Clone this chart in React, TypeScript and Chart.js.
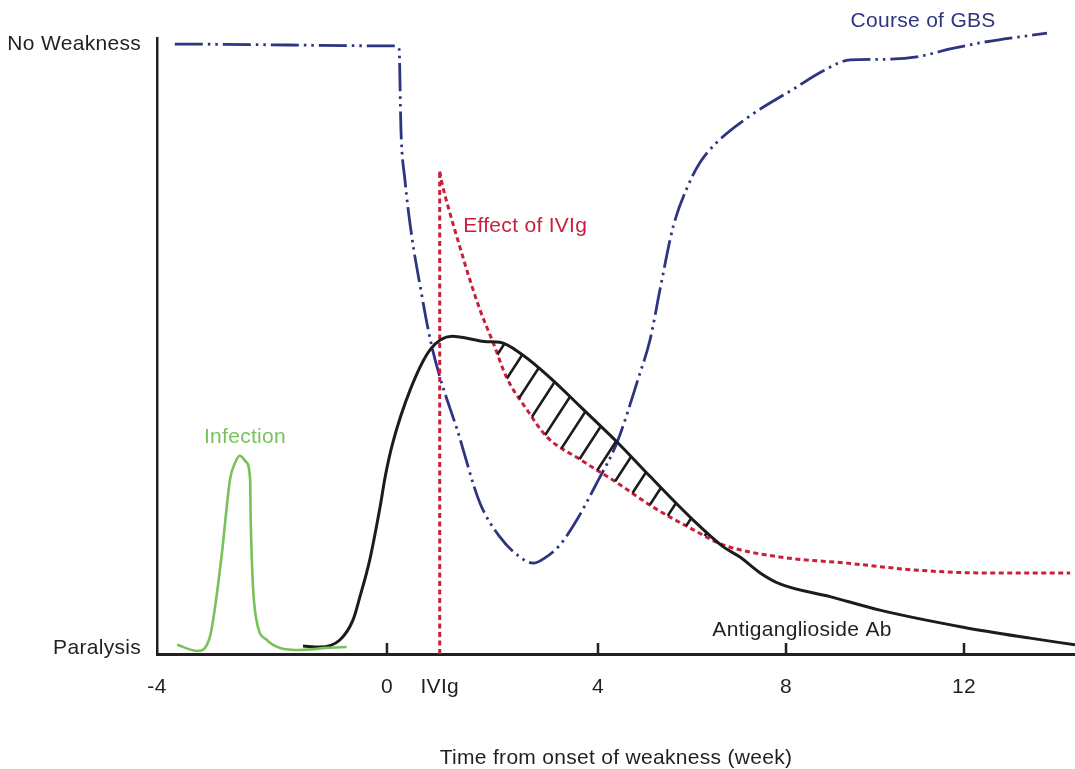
import React, { useEffect, useRef } from "react";
import { Chart, registerables } from "chart.js";

Chart.register(...registerables);

// ---- axis layout (the drawn time axis is not evenly spaced) ----
const axisWeeks = [-4, 0, 4, 8, 12, 14.5];
const axisStops = [0, 25.05, 48.04, 68.52, 87.91, 100];

const xTickWeeks = [-4, 0, 1, 4, 8, 12];
const xTickLabels = ["-4", "0", "IVIg", "4", "8", "12"];
const xTickMarkWeeks = [0, 4, 8, 12];
const xTitle = "Time from onset of weakness (week)";

const yTickValues = [1, 100];
const yTickLabels = ["Paralysis", "No Weakness"];

// ---- series ----
const infectionWeeks = [-3.65, -3.29, -3.08, -2.99, -2.87, -2.73, -2.64, -2.56, -2.45, -2.38, -2.37, -2.33, -2.26, -2.09, -1.86, -1.51, -1.04, -0.7];
const infectionValues = [1.5, 0.5, 2.8, 7.7, 16.6, 28.6, 31.4, 32.5, 31.5, 28.6, 22.0, 11.0, 5.1, 2.3, 1.0, 0.66, 1.0, 1.15];

const antibodyWeeks = [-1.46, -1.17, -0.82, -0.59, -0.47, -0.3, -0.12, -0.03, 0.11, 0.44, 0.82, 1.23, 1.9, 2.14, 2.56, 3.13, 3.66, 4.4, 5.11, 6.02, 6.66, 7.02, 7.45, 7.87, 8.99, 10.11, 11.98, 13.49, 14.5];
const antibodyValues = [1.3, 1.15, 2.3, 5.6, 9.4, 15.4, 24.1, 29.1, 34.6, 43.3, 49.9, 52.1, 51.2, 51.1, 49.1, 45.0, 40.6, 34.8, 29.1, 22.0, 17.6, 15.9, 13.3, 11.5, 9.4, 7.2, 4.4, 2.6, 1.5];

const ivigWeeks = [1, 1];
const ivigValues = [0, 79.1];

const effectWeeks = [1.0, 1.04, 1.19, 1.38, 1.57, 1.76, 2.01, 2.27, 2.65, 3.03, 3.66, 4.4, 5.17, 6.02, 6.66, 7.87, 9.37, 10.85, 12.36, 14.39];
const effectValues = [79.1, 77.3, 72.4, 66.8, 61.4, 56.5, 51.1, 45.3, 40.1, 35.6, 31.9, 28.1, 24.1, 20.4, 17.9, 15.9, 14.9, 13.8, 13.3, 13.3];

const gbsWeeks = [-3.69, 0.15, 0.23, 0.265, 0.34, 0.47, 0.63, 0.82, 1.0, 1.33, 1.76, 2.14, 2.52, 2.77, 3.0, 3.28, 3.6, 3.98, 4.4, 4.87, 5.11, 5.32, 5.6, 5.91, 6.17, 6.53, 7.23, 8.16, 8.83, 9.44, 10.18, 10.94, 11.69, 12.43, 13.87];
const gbsValues = [100.0, 99.7, 99.2, 86.0, 77.8, 68.5, 60.3, 51.6, 45.5, 36.8, 24.8, 19.2, 15.9, 14.9, 15.8, 17.9, 22.0, 28.1, 34.6, 45.5, 51.6, 59.8, 70.1, 76.7, 80.6, 83.9, 88.2, 92.6, 95.6, 97.4, 97.5, 97.9, 99.2, 100.3, 101.8];

// ---- curve labels ----
const curveLabelTexts = ["Course of GBS", "Effect of IVIg", "Infection", "Antiganglioside Ab"];
const curveLabelWeeks = [11.08, 2.62, -2.47, 8.36];
const curveLabelValues = [103.8, 70.1, 35.5, 3.9];

// ---- styles ----
const FONT = "'Liberation Sans', Arial, Helvetica, sans-serif";
const FONT_SIZE = 21;
const TEXT = "#231f20";
const BLUE = "#2e3580";
const RED = "#c8203c";
const GREEN = "#78c25a";
const BLACK = "#1c1c1c";
const curveLabelColors = [BLUE, RED, GREEN, TEXT];
const LETTER_SPACING = "0.3px";

const warp = (w: number) => {
  for (let i = 1; i < axisWeeks.length; i++) {
    if (w <= axisWeeks[i] || i === axisWeeks.length - 1) {
      const t = (w - axisWeeks[i - 1]) / (axisWeeks[i] - axisWeeks[i - 1]);
      return axisStops[i - 1] + t * (axisStops[i] - axisStops[i - 1]);
    }
  }
  return 0;
};

const toPoints = (ws: number[], vs: number[]) => ws.map((w, i) => ({ x: warp(w), y: vs[i] }));

const IDX_ANTIBODY = 1;
const IDX_EFFECT = 3;

const spacingPlugin = {
  id: "spacing",
  beforeDraw(chart: any) {
    chart.ctx.letterSpacing = LETTER_SPACING;
  },
};

const hatchPlugin = {
  id: "hatch",
  afterDatasetsDraw(chart: any) {
    const upper = chart.getDatasetMeta(IDX_ANTIBODY).dataset;
    const lower = chart.getDatasetMeta(IDX_EFFECT).dataset;
    const { ctx, chartArea } = chart;
    const pu = upper.points;
    const pl = lower.points;
    ctx.save();
    ctx.beginPath();
    upper.path(ctx);
    ctx.lineTo(pu[pu.length - 1].x, chartArea.bottom + 60);
    ctx.lineTo(pu[0].x, chartArea.bottom + 60);
    ctx.closePath();
    ctx.clip();
    ctx.beginPath();
    lower.path(ctx);
    ctx.lineTo(pl[pl.length - 1].x, chartArea.top - 60);
    ctx.lineTo(pl[0].x, chartArea.top - 60);
    ctx.closePath();
    ctx.clip();
    const ang = (57 * Math.PI) / 180;
    const H = chartArea.bottom - chartArea.top;
    const shift = H / Math.tan(ang);
    ctx.strokeStyle = BLACK;
    ctx.lineWidth = 2.6;
    ctx.beginPath();
    for (let x0 = chartArea.left + 21; x0 < chartArea.right + shift + 30; x0 += 25) {
      ctx.moveTo(x0, chartArea.top);
      ctx.lineTo(x0 - shift, chartArea.bottom);
    }
    ctx.stroke();
    ctx.restore();
  },
};

const decorPlugin = {
  id: "decor",
  afterDraw(chart: any) {
    const { ctx, chartArea } = chart;
    const xs = chart.scales.x;
    const ys = chart.scales.y;
    ctx.save();
    ctx.strokeStyle = TEXT;
    ctx.lineWidth = 2.5;
    ctx.beginPath();
    xTickMarkWeeks.forEach((w) => {
      const px = xs.getPixelForValue(warp(w));
      ctx.moveTo(px, chartArea.bottom);
      ctx.lineTo(px, chartArea.bottom - 11);
    });
    ctx.stroke();
    ctx.letterSpacing = LETTER_SPACING;
    ctx.font = `${FONT_SIZE}px ${FONT}`;
    ctx.textAlign = "center";
    ctx.textBaseline = "middle";
    curveLabelTexts.forEach((t, i) => {
      ctx.fillStyle = curveLabelColors[i];
      ctx.fillText(t, xs.getPixelForValue(warp(curveLabelWeeks[i])), ys.getPixelForValue(curveLabelValues[i]));
    });
    ctx.restore();
    ctx.letterSpacing = "0px";
  },
};

export default function App() {
  const ref = useRef<HTMLCanvasElement>(null);
  useEffect(() => {
    if (!ref.current) return;
    const base = {
      pointRadius: 0,
      pointHoverRadius: 0,
      fill: false,
      clip: false as any,
      cubicInterpolationMode: "monotone" as const,
    };
    const chart = new Chart(ref.current, {
      type: "line",
      data: {
        datasets: [
          { ...base, label: "Infection", data: toPoints(infectionWeeks, infectionValues), borderColor: GREEN, borderWidth: 2.6 },
          { ...base, label: "Antiganglioside Ab", data: toPoints(antibodyWeeks, antibodyValues), borderColor: BLACK, borderWidth: 3 },
          { ...base, label: "IVIg", data: toPoints(ivigWeeks, ivigValues), borderColor: RED, borderWidth: 3, borderDash: [5, 3.5], cubicInterpolationMode: "default", tension: 0 },
          { ...base, label: "Effect of IVIg", data: toPoints(effectWeeks, effectValues), borderColor: RED, borderWidth: 3, borderDash: [5, 3.5] },
          { ...base, label: "Course of GBS", data: toPoints(gbsWeeks, gbsValues), borderColor: BLUE, borderWidth: 2.8, borderDash: [28, 5, 2.5, 5, 2.5, 5] },
        ],
      },
      options: {
        animation: false,
        responsive: false,
        devicePixelRatio: 1,
        events: [],
        layout: { padding: { top: 38, right: 0, bottom: 0, left: 0 } },
        plugins: { legend: { display: false }, tooltip: { enabled: false }, title: { display: false } },
        scales: {
          x: {
            type: "linear",
            position: "bottom",
            min: 0,
            max: 100,
            afterBuildTicks: (s: any) => {
              s.ticks = xTickWeeks.map((w) => ({ value: warp(w) }));
            },
            afterFit: (s: any) => {
              s.height = 115;
            },
            grid: { display: false, drawTicks: false },
            border: { display: true, width: 3, color: TEXT },
            ticks: {
              autoSkip: false,
              maxRotation: 0,
              padding: 21,
              color: TEXT,
              font: { family: FONT, size: FONT_SIZE },
              callback: (_v: any, i: number) => xTickLabels[i],
            },
            title: {
              display: true,
              text: xTitle,
              color: TEXT,
              font: { family: FONT, size: FONT_SIZE, lineHeight: 1.05 },
              padding: { top: 0, bottom: 0 },
            },
          },
          y: {
            type: "linear",
            min: 0,
            max: 101,
            afterBuildTicks: (s: any) => {
              s.ticks = yTickValues.map((v) => ({ value: v }));
            },
            afterFit: (s: any) => {
              s.width = 157;
            },
            grid: { display: false, drawTicks: false },
            border: { display: true, width: 2.5, color: TEXT },
            ticks: {
              autoSkip: false,
              padding: 16,
              color: TEXT,
              font: { family: FONT, size: FONT_SIZE },
              callback: (_v: any, i: number) => yTickLabels[i],
            },
          },
        },
      },
      plugins: [spacingPlugin, hatchPlugin, decorPlugin],
    });
    return () => chart.destroy();
  }, []);
  return (
    <div style={{ position: "absolute", left: 0, top: 0, width: 1075, height: 769, background: "#fff" }}>
      <canvas ref={ref} width={1075} height={769} style={{ display: "block" }} />
    </div>
  );
}
